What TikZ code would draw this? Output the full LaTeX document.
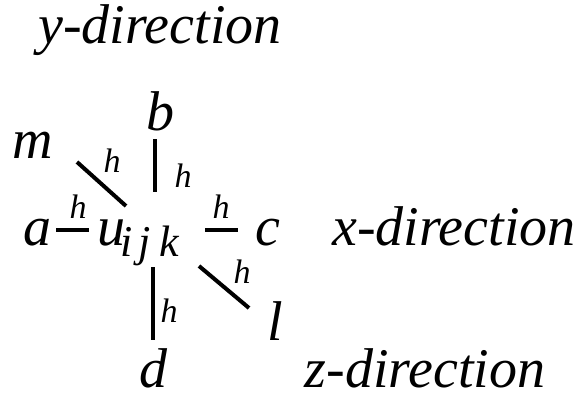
\documentclass[tikz,border=0pt]{standalone}
\usepackage{fontspec}
\setmainfont{Liberation Serif}
\tikzset{
  big/.style={inner sep=0pt, anchor=base, font=\fontsize{56}{60}\selectfont\itshape},
  sub/.style={inner sep=0pt, anchor=base, font=\fontsize{44}{48}\selectfont\itshape},
  small/.style={inner sep=0pt, anchor=base, font=\fontsize{34}{38}\selectfont\itshape},
  bar/.style={line width=4pt}
}
\begin{document}
\begin{tikzpicture}[x=1pt,y=-1pt]
\useasboundingbox (0,0) rectangle (580,400);
% direction labels
\node[big] (ydir) at (160,43) {y-direction};
\node[big] (xdir) at (454,245) {x-direction};
\node[big] (zdir) at (425,387) {z-direction};
% letters
\node[big] (b) at (160,130) {b};
\node[big] (m) at (33,158) {m};
\node[big] (a) at (37,245) {a};
\node[big] (u) at (111,245) {u};
\node[sub] (i) at (127,256) {i};
\node[sub] (j) at (145,256) {j};
\node[sub] (k) at (169,256) {k};
\node[big] (c) at (268,245) {c};
\node[big] (l) at (275,340) {l};
\node[big] (d) at (153,387) {d};
% bar end points
\coordinate (m1) at (77,162);  \coordinate (m2) at (126,206);
\coordinate (b1) at (155,139); \coordinate (b2) at (155,192);
\coordinate (a1) at (56,230);  \coordinate (a2) at (89,230);
\coordinate (c1) at (205,230); \coordinate (c2) at (238,230);
\coordinate (l1) at (199,266); \coordinate (l2) at (249,308);
\coordinate (d1) at (153,267); \coordinate (d2) at (153,340);
\draw[bar] (m1) -- (m2);
\draw[bar] (b1) -- (b2);
\draw[bar] (a1) -- (a2);
\draw[bar] (c1) -- (c2);
\draw[bar] (l1) -- (l2);
\draw[bar] (d1) -- (d2);
% h labels
\node[small] (hm) at (112,172) {h};
\node[small] (hb) at (183,187) {h};
\node[small] (ha) at (78,218) {h};
\node[small] (hc) at (221,218) {h};
\node[small] (hl) at (242,283) {h};
\node[small] (hd) at (169,322) {h};
\end{tikzpicture}
\end{document}
